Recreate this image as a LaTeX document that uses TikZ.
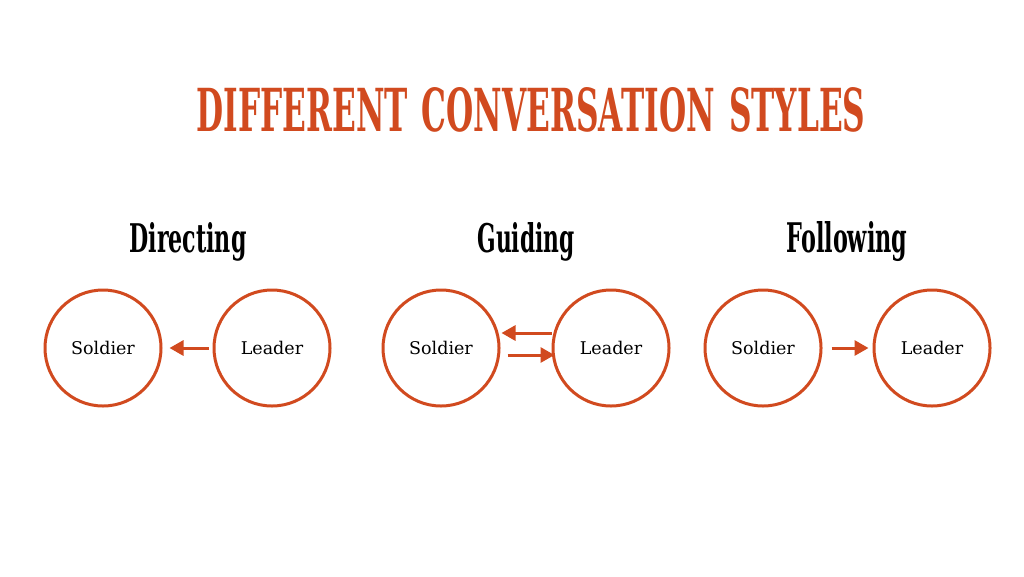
\documentclass[tikz,border=0pt]{standalone}
\usepackage{fontspec}
\usepackage{graphicx}
\setmainfont{DejaVu Serif}
\usetikzlibrary{arrows.meta}
\definecolor{rust}{HTML}{D14A1F}
\tikzset{
  circ/.style={circle, draw=rust, line width=3pt, minimum size=116pt, inner sep=0pt, font=\fontsize{17.5}{20}\selectfont},
  conv/.style={draw=rust, line width=3pt, -{Triangle[length=14pt,width=15pt]}},
  head/.style={inner sep=0pt, anchor=base, text=black}
}
\begin{document}
\begin{tikzpicture}[x=1pt,y=-1pt]
\useasboundingbox[fill=white] (0,0) rectangle (1024,576);
\node[head, text=rust] (title) at (531,131) {\resizebox{669pt}{44pt}{\bfseries DIFFERENT\hspace{0.45em}CONVERSATION\hspace{0.45em}STYLES}};
\node[head] (h1) at (188,252) {\resizebox{117pt}{30pt}{\bfseries Directing}};
\node[head] (h2) at (526,252) {\resizebox{97pt}{30pt}{\bfseries Guiding}};
\node[head] (h3) at (847,252) {\resizebox{121pt}{31pt}{\bfseries Following}};
% Directing
\node[circ] (s1) at (103,348) {Soldier};
\node[circ] (l1) at (272,348) {Leader};
\draw[conv, shorten <=4pt, shorten >=7pt] (l1.west) -- (s1.east);
% Guiding
\node[circ] (s2) at (441,348) {Soldier};
\node[circ] (l2) at (611,348) {Leader};
\draw[conv, shorten >=1pt] ([yshift=15pt]l2.west) -- ([yshift=15pt]s2.east);
\draw[conv, shorten <=7pt, shorten >=-3pt] ([yshift=-7pt]s2.east) -- ([yshift=-7pt]l2.west);
% Following
\node[circ] (s3) at (763,348) {Soldier};
\node[circ] (l3) at (932,348) {Leader};
\draw[conv, shorten <=9pt, shorten >=4pt] (s3.east) -- (l3.west);
\end{tikzpicture}
\end{document}
